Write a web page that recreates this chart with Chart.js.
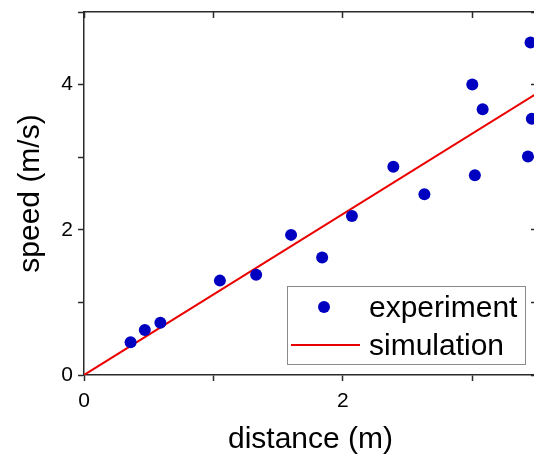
<!DOCTYPE html>
<html>
<head>
<meta charset="utf-8">
<script src="https://cdn.jsdelivr.net/npm/chart.js@4.4.1/dist/chart.umd.min.js"></script>
<style>
  html, body { margin: 0; padding: 0; overflow: hidden; background: #fff; }
  #wrap { width: 543px; height: 456px; }
</style>
</head>
<body>
<div id="wrap"><canvas id="chart" width="543" height="456"></canvas></div>
<script>
'use strict';

// experiment points
const expDistance = [0.36, 0.47, 0.59, 1.05, 1.33, 1.60, 1.84, 2.07, 2.39, 2.63, 3.00, 3.02, 3.08, 3.43, 3.45, 3.46];
const expSpeed    = [0.45, 0.62, 0.72, 1.30, 1.38, 1.93, 1.62, 2.19, 2.87, 2.49, 4.00, 2.75, 3.66, 3.01, 4.58, 3.53];

// simulation line
const simDistance = [0, 3.5];
const simSpeed    = [0, 3.88];

const xRange = [0, 3.5];
const yRange = [0, 5];
const majorTicks = [0, 2, 4];

const FONT = '"Liberation Sans", Arial, sans-serif';
const AXIS = '#2a2a2a';

const toPoints = (xs, ys) => xs.map((x, i) => ({ x, y: ys[i] }));

// legend drawn inside the plot, bottom right, with a thin grey frame
const boxLegend = {
  id: 'boxLegend',
  afterDatasetsDraw(chart) {
    const { ctx, chartArea } = chart;
    const [exp, sim] = chart.data.datasets;
    const left = chartArea.left + 203, top = chartArea.top + 274;
    const w = 238, h = 78;
    ctx.save();
    ctx.fillStyle = '#fff';
    ctx.fillRect(left, top, w, h);
    ctx.strokeStyle = '#8a8a8a';
    ctx.lineWidth = 1;
    ctx.strokeRect(left + 0.5, top + 0.5, w, h);

    ctx.fillStyle = exp.backgroundColor;
    ctx.beginPath();
    ctx.arc(left + 37, top + 21, exp.pointRadius, 0, Math.PI * 2);
    ctx.fill();

    ctx.strokeStyle = sim.borderColor;
    ctx.lineWidth = sim.borderWidth;
    ctx.beginPath();
    ctx.moveTo(left + 4, top + 59);
    ctx.lineTo(left + 73, top + 59);
    ctx.stroke();

    ctx.fillStyle = '#000';
    ctx.font = '30px ' + FONT;
    ctx.textBaseline = 'alphabetic';
    ctx.fillText(exp.label, left + 82, top + 31);
    ctx.fillText(sim.label, left + 82, top + 69);
    ctx.restore();
  }
};

const tickGrid = len => ({
  display: true,
  drawOnChartArea: false,
  drawTicks: true,
  tickLength: len,
  tickWidth: 1.5,
  tickColor: AXIS,
});
const border = { display: true, color: AXIS, width: 1.5 };
const noPad = s => { s.paddingTop = 0; s.paddingBottom = 0; s.paddingLeft = 0; s.paddingRight = 0; };

new Chart(document.getElementById('chart'), {
  type: 'scatter',
  data: {
    datasets: [
      {
        label: 'experiment',
        data: toPoints(expDistance, expSpeed),
        backgroundColor: 'rgb(0,0,192)',
        borderColor: 'rgb(0,0,192)',
        pointRadius: 6,
        pointBorderWidth: 0,
        showLine: false,
      },
      {
        label: 'simulation',
        data: toPoints(simDistance, simSpeed),
        type: 'line',
        borderColor: 'rgb(235,0,0)',
        backgroundColor: 'rgb(235,0,0)',
        borderWidth: 2,
        pointRadius: 0,
        fill: false,
      },
    ],
  },
  options: {
    responsive: false,
    animation: false,
    devicePixelRatio: 1,
    layout: { padding: 0 },
    plugins: { legend: { display: false }, tooltip: { enabled: false } },
    scales: {
      x: {
        type: 'linear', position: 'bottom',
        min: xRange[0], max: xRange[1],
        grid: tickGrid(6), border,
        ticks: {
          stepSize: 1, padding: 8, color: '#000',
          font: { family: FONT, size: 21 },
          callback: v => majorTicks.includes(v) ? String(v) : '',
        },
        title: {
          display: true, text: 'distance (m)', color: '#000',
          font: { family: FONT, size: 30 }, padding: { top: 4, bottom: -2 },
        },
        afterFit: s => { s.height = 81; noPad(s); },
      },
      x2: {
        type: 'linear', position: 'top',
        min: xRange[0], max: xRange[1],
        grid: tickGrid(-6), border,
        ticks: { stepSize: 1, display: false },
        afterFit: s => { s.height = 12; noPad(s); },
      },
      y: {
        type: 'linear', position: 'left',
        min: yRange[0], max: yRange[1],
        grid: tickGrid(6), border,
        ticks: {
          stepSize: 1, padding: 5, color: '#000',
          font: { family: FONT, size: 21 },
          callback: v => majorTicks.includes(v) ? String(v) : '',
        },
        title: {
          display: true, text: 'speed (m/s)', color: '#000',
          font: { family: FONT, size: 30 }, padding: { top: 13, bottom: 0 },
        },
        afterFit: s => { s.width = 84; noPad(s); },
      },
      y2: {
        type: 'linear', position: 'right',
        min: yRange[0], max: yRange[1],
        grid: tickGrid(-6), border,
        ticks: { stepSize: 1, display: false },
        afterFit: s => { s.width = 4; noPad(s); },
      },
    },
  },
  plugins: [boxLegend],
});
</script>
</body>
</html>
